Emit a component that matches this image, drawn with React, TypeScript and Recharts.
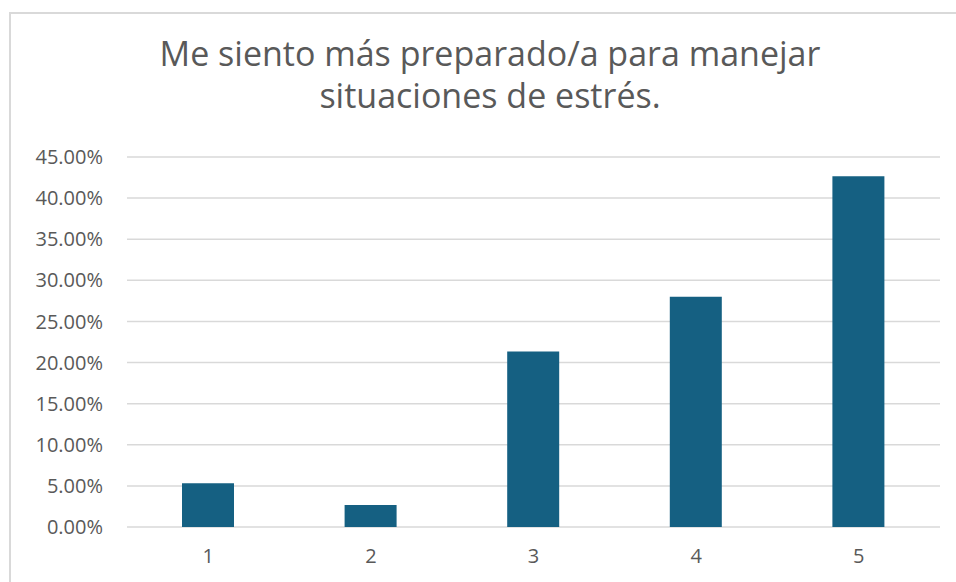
import { BarChart, Bar, XAxis, YAxis, CartesianGrid } from 'recharts';

const categories = ['1', '2', '3', '4', '5'];
const shares = [5.33, 2.67, 21.33, 28.0, 42.67];
const yTicks = [0, 5, 10, 15, 20, 25, 30, 35, 40, 45];
const titleLines = ['Me siento más preparado/a para manejar', 'situaciones de estrés.'];

const data = categories.map((name, i) => ({ name, value: shares[i] }));

const FONT = '"Open Sans", sans-serif';
const TEXT = '#595959';

export default function App() {
  return (
    <div style={{ position: 'absolute', left: 0, top: 0, width: 956, height: 582, overflow: 'hidden', background: '#fff', fontFamily: FONT }}>
      <div
        style={{
          position: 'absolute',
          left: 9,
          top: 12,
          width: 1000,
          height: 700,
          borderTop: '2px solid #d9d9d9',
          borderLeft: '2px solid #d9d9d9',
        }}
      />
      <div style={{ position: 'absolute', left: 0, top: 0 }}>
        <BarChart width={956} height={582} data={data} margin={{ top: 157, right: 16, bottom: 25, left: 27 }} barSize={52}>
          <CartesianGrid vertical={false} stroke="#d9d9d9" strokeWidth={1.5} />
          <XAxis
            dataKey="name"
            axisLine={false}
            tickLine={false}
            height={30}
            tickMargin={16}
            tick={{ fill: TEXT, fontSize: 20, fontFamily: FONT }}
          />
          <YAxis
            width={100}
            domain={[0, 45]}
            ticks={yTicks}
            interval={0}
            axisLine={false}
            tickLine={false}
            tickMargin={18}
            tickFormatter={(v: number) => `${v.toFixed(2)}%`}
            tick={{ fill: TEXT, fontSize: 20, fontFamily: FONT }}
          />
          <Bar dataKey="value" fill="#156082" isAnimationActive={false} />
        </BarChart>
      </div>
      <div
        style={{
          position: 'absolute',
          left: 0,
          width: 980,
          top: 32,
          textAlign: 'center',
          color: TEXT,
          fontSize: 34,
          lineHeight: '42px',
        }}
      >
        {titleLines.map((t) => (
          <div key={t}>{t}</div>
        ))}
      </div>
    </div>
  );
}
